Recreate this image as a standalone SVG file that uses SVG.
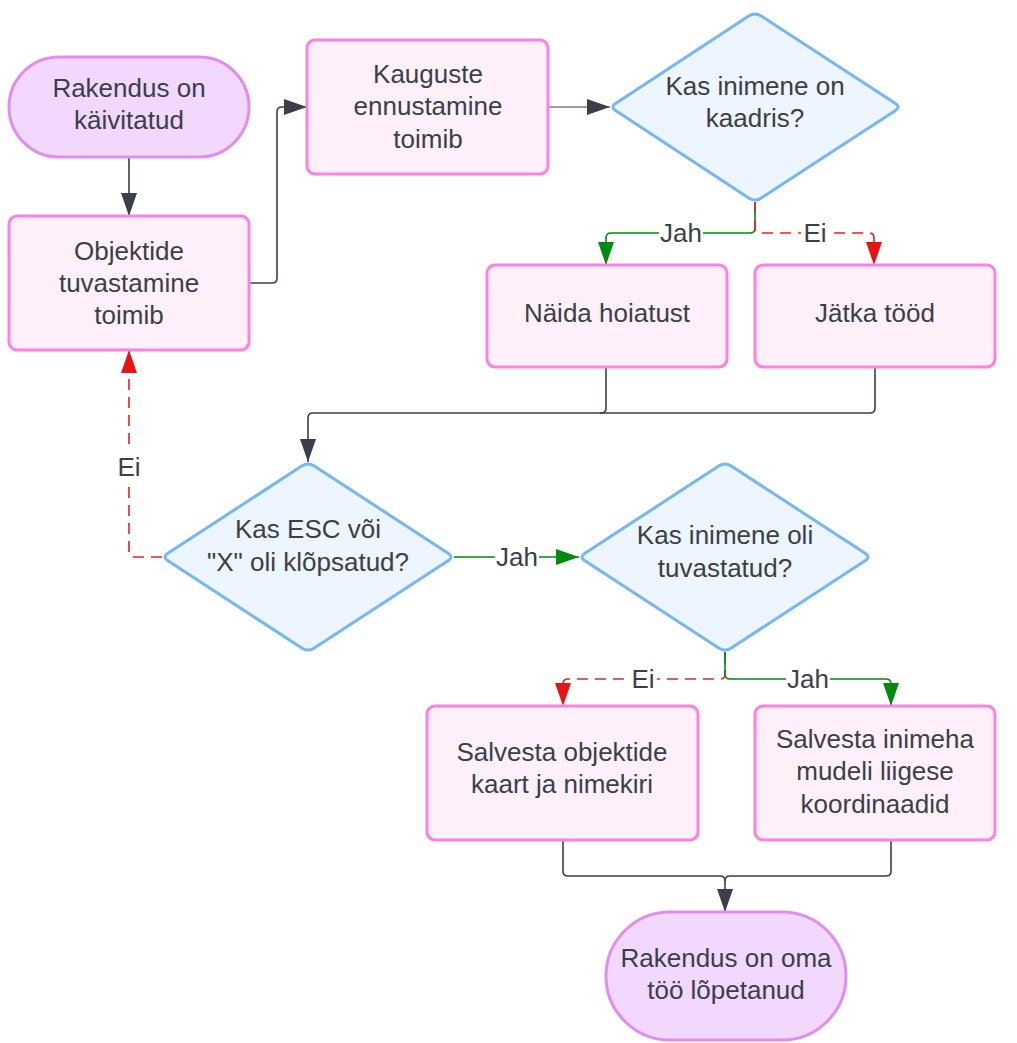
<svg xmlns="http://www.w3.org/2000/svg" width="1017" height="1043" viewBox="0 0 1017 1043">
<style>
text{font-family:"Liberation Sans",Arial,sans-serif;font-size:26px;fill:#3a3f4a;text-anchor:middle}
.box{fill:#fff0fa;stroke:#ff80df;stroke-width:3}
.dia{fill:#edf5ff;stroke:#75b6f7;stroke-width:3;stroke-linejoin:round}
.term{fill:#f2d8fd;stroke:#e08df3;stroke-width:3}
.c{fill:none;stroke:#3a3f4a;stroke-width:1.6}
.g{fill:none;stroke:#008a0e;stroke-width:1.6}
.r{fill:none;stroke:#e82020;stroke-width:1.6;stroke-dasharray:11 7}
.lb{fill:#fff}
</style>
<defs>
<marker id="ad" markerUnits="userSpaceOnUse" markerWidth="24" markerHeight="16" refX="23" refY="8" orient="auto"><path d="M0,0 L23,8 L0,16 z" fill="#3a3f4a"/></marker>
<marker id="ag" markerUnits="userSpaceOnUse" markerWidth="24" markerHeight="16" refX="23" refY="8" orient="auto"><path d="M0,0 L23,8 L0,16 z" fill="#008a0e"/></marker>
<marker id="ar" markerUnits="userSpaceOnUse" markerWidth="24" markerHeight="16" refX="23" refY="8" orient="auto"><path d="M0,0 L23,8 L0,16 z" fill="#e81313"/></marker>
</defs>
<rect width="1017" height="1043" fill="#fff"/>
<g id="connectors">
<path class="c" d="M129,157 V216" marker-end="url(#ad)"/>
<path class="c" d="M249,283 H272 Q277,283 277,278 V112 Q277,107 282,107 H307" marker-end="url(#ad)"/>
<path class="c" style="stroke-width:1" d="M548,107 H610" marker-end="url(#ad)"/>
<path class="g" d="M755,202 V228 Q755,233 750,233 H611 Q606,233 606,238 V265" marker-end="url(#ag)"/>
<path class="r" d="M755,202 V228 Q755,233 760,233 H869 Q874,233 874,238 V265" marker-end="url(#ar)"/>
<path class="c" d="M875,367 V408 Q875,413 870,413 H600"/>
<path class="c" d="M606,367 V408 Q606,413 601,413 H313 Q308,413 308,418 V462" marker-end="url(#ad)"/>
<path class="r" d="M162,557 H134 Q129,557 129,552 V350" marker-end="url(#ar)"/>
<path class="g" d="M454,557 H579" marker-end="url(#ag)"/>
<path class="r" d="M725,652 V674 Q725,679 720,679 H568 Q563,679 563,684 V706" marker-end="url(#ar)"/>
<path class="g" d="M725,652 V674 Q725,679 730,679 H886 Q891,679 891,684 V706" marker-end="url(#ag)"/>
<path class="c" d="M891,840 V871 Q891,876 886,876 H730 Q725,876 725,881"/>
<path class="c" d="M563,840 V871 Q563,876 568,876 H720 Q725,876 725,881 V912" marker-end="url(#ad)"/>
<rect class="lb" x="659" y="220" width="44" height="26"/>
<text x="681" y="242">Jah</text>
<rect class="lb" x="801" y="220" width="28" height="26"/>
<text x="815" y="242">Ei</text>
<rect class="lb" x="114" y="448" width="30" height="36"/>
<text x="129" y="476">Ei</text>
<rect class="lb" x="495" y="544" width="44" height="26"/>
<text x="517" y="566">Jah</text>
<rect class="lb" x="629" y="666" width="28" height="26"/>
<text x="643" y="688">Ei</text>
<rect class="lb" x="786" y="666" width="44" height="26"/>
<text x="808" y="688">Jah</text>
</g>
<g id="start">
<rect class="term" x="9" y="57" width="240" height="100" rx="50"/>
<text x="129" y="97">Rakendus on</text>
<text x="129" y="129">käivitatud</text>
</g>
<g id="objektide">
<rect class="box" x="9" y="216" width="240" height="134" rx="8"/>
<text x="129" y="260">Objektide</text>
<text x="129" y="292">tuvastamine</text>
<text x="129" y="324">toimib</text>
</g>
<g id="kauguste">
<rect class="box" x="307" y="40" width="241" height="134" rx="8"/>
<text x="428" y="83">Kauguste</text>
<text x="428" y="115">ennustamine</text>
<text x="428" y="148">toimib</text>
</g>
<g id="kaadris">
<path class="dia" d="M749.1,15.8 Q755,12 760.9,15.8 L895.1,103.2 Q901,107 895.1,110.8 L760.9,198.2 Q755,202 749.1,198.2 L615.9,110.8 Q610,107 615.9,103.2 Z"/>
<text x="755" y="95">Kas inimene on</text>
<text x="755" y="127">kaadris?</text>
</g>
<g id="hoiatus">
<rect class="box" x="487" y="265" width="240" height="102" rx="8"/>
<text x="607" y="322">Näida hoiatust</text>
</g>
<g id="jatka">
<rect class="box" x="755" y="265" width="240" height="102" rx="8"/>
<text x="875" y="322">Jätka tööd</text>
</g>
<g id="esc">
<path class="dia" d="M302.1,465.8 Q308,462 313.9,465.8 L448.1,553.2 Q454,557 448.1,560.8 L313.9,648.2 Q308,652 302.1,648.2 L167.9,560.8 Q162,557 167.9,553.2 Z"/>
<text x="308" y="538">Kas ESC või</text>
<text x="308" y="571">"X" oli klõpsatud?</text>
</g>
<g id="tuvastatud">
<path class="dia" d="M719.1,465.8 Q725,462 730.9,465.8 L865.1,553.2 Q871,557 865.1,560.8 L730.9,648.2 Q725,652 719.1,648.2 L584.9,560.8 Q579,557 584.9,553.2 Z"/>
<text x="725" y="544">Kas inimene oli</text>
<text x="725" y="577">tuvastatud?</text>
</g>
<g id="salvesta-objektid">
<rect class="box" x="427" y="706" width="271" height="134" rx="8"/>
<text x="562" y="761">Salvesta objektide</text>
<text x="562" y="793">kaart ja nimekiri</text>
</g>
<g id="salvesta-inimene">
<rect class="box" x="755" y="706" width="240" height="134" rx="8"/>
<text x="875" y="748">Salvesta inimeha</text>
<text x="875" y="780">mudeli liigese</text>
<text x="875" y="813">koordinaadid</text>
</g>
<g id="end">
<rect class="term" x="606" y="912" width="240" height="128" rx="64"/>
<text x="726" y="967">Rakendus on oma</text>
<text x="726" y="999">töö lõpetanud</text>
</g>
</svg>
